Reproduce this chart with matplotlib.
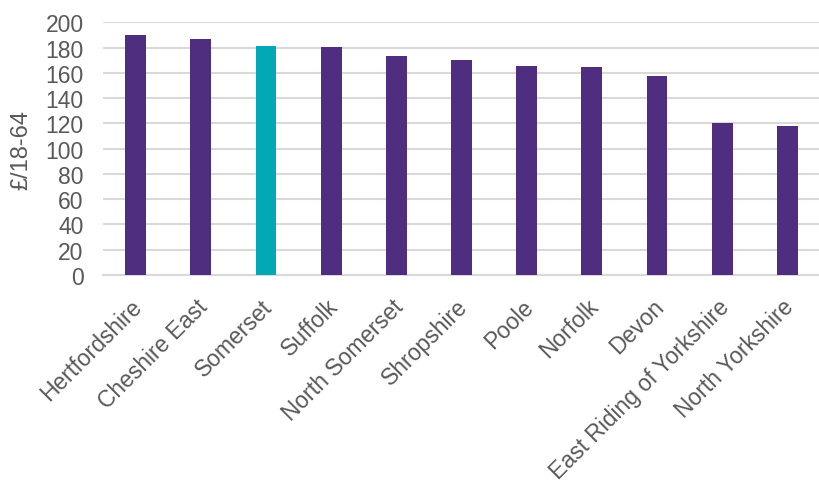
import matplotlib
matplotlib.use("Agg")
import matplotlib.pyplot as plt
import matplotlib.transforms as mtransforms
import numpy as np

areas = ["Hertfordshire", "Cheshire East", "Somerset", "Suffolk", "North Somerset",
         "Shropshire", "Poole", "Norfolk", "Devon", "East Riding of Yorkshire",
         "North Yorkshire"]
spend = [190.2, 186.5, 181.0, 180.7, 173.6, 170.4, 165.2, 164.4, 157.2, 120.5, 117.9]
highlight = "Somerset"

PURPLE = "#4F2D7F"
TEAL = "#00A9B5"
GREY_TEXT = "#595959"
GRID = "#D9D9D9"

plt.rcParams["font.family"] = ["Liberation Sans", "DejaVu Sans"]

fig = plt.figure(figsize=(8.2, 4.89), dpi=100)
ax = fig.add_axes([0.1256, 0.4356, 0.8744, 0.5167])

x = np.arange(len(areas))
colors = [TEAL if a == highlight else PURPLE for a in areas]
ax.bar(x, spend, width=0.32, color=colors, zorder=3)

ax.set_xlim(-0.5, len(areas) - 0.5)
ax.set_ylim(0, 200)
ax.set_yticks(np.arange(0, 201, 20))
ax.yaxis.grid(True, color=GRID, lw=1.5, zorder=0)
for s in ["top", "right", "left"]:
    ax.spines[s].set_visible(False)
ax.spines["bottom"].set_color(GRID)
ax.spines["bottom"].set_linewidth(1.5)

ax.set_xticks(x)
ax.set_xticklabels(areas, rotation=45, ha="right", rotation_mode="anchor")
ax.tick_params(axis="both", length=0, labelsize=16.5, colors=GREY_TEXT)
ax.tick_params(axis="x", pad=14)
ax.tick_params(axis="y", pad=14)

# nudge the slanted labels so they end just under the bars
shift = mtransforms.ScaledTranslation(-5 / 100, 0, fig.dpi_scale_trans)
for lbl in ax.get_xticklabels():
    lbl.set_transform(lbl.get_transform() + shift)

ax.set_ylabel("£/18-64", fontsize=17, color=GREY_TEXT)
ax.yaxis.set_label_coords(-0.099, 0.5)

fig.savefig("out.png", dpi=100)
